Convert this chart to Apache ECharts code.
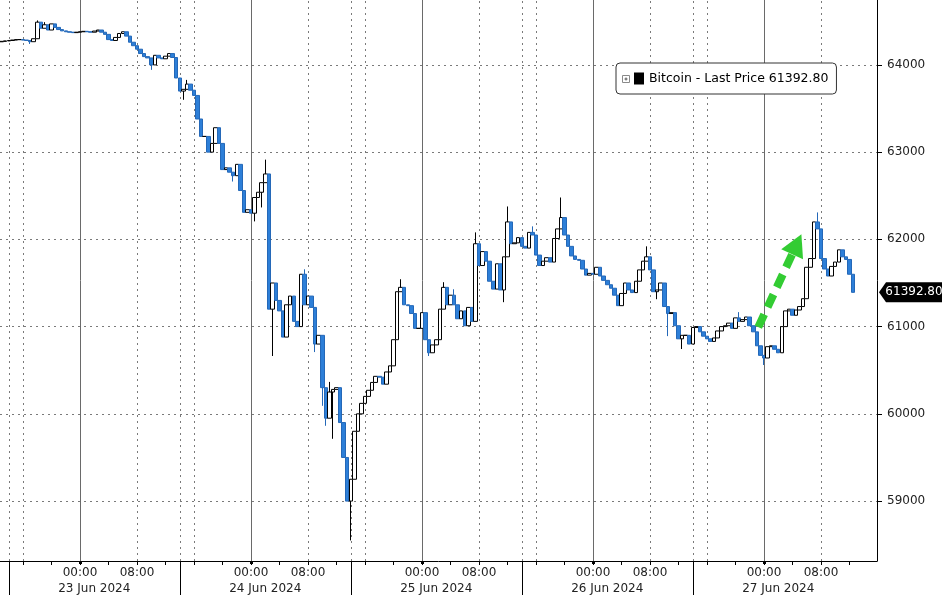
<!DOCTYPE html>
<html>
<head>
<meta charset="utf-8">
<script src="https://cdn.jsdelivr.net/npm/echarts@6/dist/echarts.min.js"></script>
<style>html,body{margin:0;padding:0;background:#fff}#c{width:942px;height:595px}</style>
</head>
<body>
<div id="c"></div>
<script>
// ---- data (hours relative to 23 Jun 2024 00:00, 30-minute candles) ----
const seriesName = 'Bitcoin';
const lastPrice = 61392.80;
const firstOpen = 64265;
const startHour = -11;
const stepHours = 0.5;
const closes = [
 64270,64275,64280,64285,64290,64290,64285,64280,64266,64300,
 64490,64420,64460,64400,64470,64430,64405,64390,64380,64375,
 64370,64375,64380,64385,64380,64375,64388,64400,64375,64350,
 64290,64280,64315,64360,64380,64330,64260,64220,64180,64130,
 64095,64080,64000,64110,64080,64070,64100,64130,64085,63850,
 63700,63720,63780,63710,63650,63380,63180,63180,63000,63100,
 63280,63100,62800,62820,62770,62730,62860,62560,62310,62340,
 62300,62480,62540,62650,62750,61200,61500,61300,61180,60880,
 61250,61350,61060,61000,61600,61250,61350,61220,60800,60900,
 60300,59950,60250,60280,60300,59900,59500,59000,59250,59800,
 60000,60120,60200,60270,60360,60430,60420,60340,60480,60550,
 60850,61400,61450,61250,61240,61150,60980,60980,61160,60850,
 60700,60790,60850,61200,61450,61250,61360,61250,61090,61180,
 61010,61220,61060,61950,61700,61860,61750,61520,61430,61720,
 61420,61800,62200,61950,61960,62020,61920,61900,62080,62050,
 61820,61700,61750,61790,61740,62010,62120,62250,62050,61920,
 61810,61770,61760,61660,61590,61610,61600,61680,61580,61530,
 61480,61440,61360,61240,61380,61500,61420,61390,61520,61650,
 61750,61800,61650,61400,61420,61500,61230,61150,61160,61010,
 60860,60900,60900,60800,60990,61000,60940,60890,60860,60830,
 60870,60950,61000,61010,61040,60980,61100,61060,61080,61110,
 61010,60940,60780,60670,60640,60770,60780,60740,60700,61000,
 61180,61200,61130,61190,61230,61320,61680,61780,62200,62120,
 61780,61660,61580,61690,61740,61880,61800,61770,61600,61392.8
];
// wick extremes: [candle index, price]
const wickHighs = [[10,64510],[12,64490],[52,63828],[62,63000],[74,62914],[85,61657],[92,60366],
  [112,61543],[124,61509],[127,61428],[133,62080],[142,62377],[149,62149],[157,62480],[181,61920],
  [207,61166],[229,62309]];
const wickLows = [[8,64240],[42,63943],[51,63600],[65,62663],[71,62206],[73,62366],[76,60663],
  [88,60708],[90,60092],[91,59863],[93,59714],[98,58549],[120,60663],[141,61280],[184,61314],
  [187,60891],[191,60743],[214,60560]];

const yTicks = [59000,60000,61000,62000,63000,64000];
const xMin = -11.23, xMax = 111.86, yMin = 58313, yMax = 64744;
const hourTicks = [-8,-4,0,4,8,12,16,20,24,28,32,36,40,44,48,52,56,60,64,68,72,76,80,84,88,92,96,100,104,108];
const timeLabelHours = [0,8,24,32,48,56,72,80,96,104];
const dayStarts = [0,24,48,72,96];
const dayLabels = ['23 Jun 2024','24 Jun 2024','25 Jun 2024','26 Jun 2024','27 Jun 2024'];
const dayLabelHours = [2,26,50,74,98];
const daySeparators = [-10,14,38,62,86];
const dottedHours = [-10,-8,8,14,16,32,38,40,56,62,64,80,86,88,104];
// annotation arrow (hour, price)
const arrowStart = [95.2, 60994];
const arrowEnd = [100.6, 61943];

// ---- build candles ----
const candleData = [];
let prev = firstOpen;
const hi = {}, lo = {};
wickHighs.forEach(([i,v]) => hi[i] = v);
wickLows.forEach(([i,v]) => lo[i] = v);
closes.forEach((c, i) => {
  const o = prev;
  let h = Math.max(o, c), l = Math.min(o, c);
  if (hi[i] != null) h = Math.max(h, hi[i]);
  if (lo[i] != null) l = Math.min(l, lo[i]);
  candleData.push([startHour + i * stepHours, o, c, l, h]);
  prev = c;
});

const FONT = 'DejaVu Sans';
const chart = echarts.init(document.getElementById('c'), null, {renderer: 'canvas'});

const gridLines = [];
yTicks.forEach(v => gridLines.push({yAxis: v, lineStyle: {type: [2, 4], color: '#7a7a7a', width: 1}}));
dottedHours.forEach(v => gridLines.push({xAxis: v, lineStyle: {type: [2, 4], color: '#7a7a7a', width: 1}}));
dayStarts.forEach(v => gridLines.push({xAxis: v, lineStyle: {type: 'solid', color: '#6a6a6a', width: 1}}));

const fmtHour = v => {
  const h = ((Math.round(v) % 24) + 24) % 24;
  return (h < 10 ? '0' : '') + h + ':00';
};

chart.setOption({
  animation: false,
  backgroundColor: '#ffffff',
  grid: {left: 0, right: 65, top: 0, bottom: 33, containLabel: false},
  legend: {
    data: [{name: seriesName, itemStyle: {color: '#000', borderWidth: 0}}],
    left: 616, top: 63, z: 4,
    icon: 'rect', itemWidth: 10, itemHeight: 12,
    padding: [9, 8, 9, 18],
    backgroundColor: '#fff', borderColor: '#333', borderWidth: 1, borderRadius: 4,
    textStyle: {fontFamily: FONT, fontSize: 12.5, color: '#000'},
    formatter: n => n + ' - Last Price ' + lastPrice.toFixed(2),
    selectedMode: false
  },
  graphic: {
    elements: [
      {type: 'rect', x: 622.5, y: 75.5, z: 100, shape: {x: 0, y: 0, width: 7, height: 7}, style: {fill: '#fff', stroke: '#8a8a8a', lineWidth: 1}},
      {type: 'line', x: 622.5, y: 75.5, z: 101, shape: {x1: 2, y1: 3.5, x2: 5, y2: 3.5}, style: {stroke: '#555', lineWidth: 1}},
      {type: 'line', x: 622.5, y: 75.5, z: 101, shape: {x1: 3.5, y1: 2, x2: 3.5, y2: 5}, style: {stroke: '#555', lineWidth: 1}}
    ]
  },
  xAxis: [{
    type: 'value', min: xMin, max: xMax, position: 'bottom',
    axisLine: {show: true, onZero: false, lineStyle: {color: '#000', width: 1}},
    axisTick: {show: true, length: 4, customValues: hourTicks, lineStyle: {color: '#000'}},
    axisLabel: {customValues: timeLabelHours, formatter: fmtHour, margin: 6,
      fontFamily: FONT, fontSize: 12, color: '#222'},
    splitLine: {show: false}
  }, {
    type: 'value', min: xMin, max: xMax, position: 'bottom',
    axisLine: {show: false, onZero: false},
    axisTick: {show: true, length: 34, customValues: daySeparators, lineStyle: {color: '#000'}},
    axisLabel: {customValues: dayLabelHours, formatter: v => dayLabels[dayLabelHours.indexOf(Math.round(v))] || '',
      margin: 22, fontFamily: FONT, fontSize: 12, color: '#222'},
    splitLine: {show: false}
  }, {
    type: 'value', min: xMin, max: xMax, position: 'bottom',
    axisLine: {show: false, onZero: false},
    axisTick: {show: true, length: 3, customValues: dayStarts, lineStyle: {color: '#000', width: 3}},
    axisLabel: {show: false},
    splitLine: {show: false}
  }],
  yAxis: {
    type: 'value', position: 'right', min: yMin, max: yMax,
    axisLine: {show: true, onZero: false, lineStyle: {color: '#000'}},
    axisTick: {show: true, length: 5, customValues: yTicks, lineStyle: {color: '#000'}},
    axisLabel: {customValues: yTicks, formatter: v => String(v), margin: 10,
      fontFamily: FONT, fontSize: 12, color: '#222'},
    splitLine: {show: false}
  },
  series: [{
    name: 'grid', type: 'line', data: [], z: 1, silent: true,
    markLine: {silent: true, symbol: 'none', z: 1, animation: false, label: {show: false}, data: gridLines}
  }, {
    name: seriesName, type: 'candlestick', z: 3,
    data: candleData,
    encode: {x: 0, y: [1, 2, 3, 4]},
    barWidth: 4,
    itemStyle: {color: '#ffffff', borderColor: '#000000', color0: '#2d7fd8', borderColor0: '#2468b8', borderWidth: 1},
    markPoint: {
      silent: true, animation: false,
      symbol: 'path://M0,10 L7,0 L64,0 L64,20 L7,20 Z',
      symbolSize: [64, 20], symbolKeepAspect: false, symbolOffset: [34, 0],
      itemStyle: {color: '#000'},
      label: {show: true, position: 'inside', offset: [3, 0], color: '#fff', fontFamily: FONT, fontSize: 12,
        formatter: () => lastPrice.toFixed(2)},
      data: [{coord: [xMax, lastPrice], value: lastPrice}]
    }
  }, {
    name: 'arrow', type: 'line', data: [], z: 10, silent: true,
    markLine: {
      silent: true, z: 10, animation: false,
      symbol: ['none', 'triangle'], symbolSize: [24, 22],
      label: {show: false},
      lineStyle: {color: '#33cc33', width: 8, type: [14, 8], cap: 'butt'},
      itemStyle: {color: '#33cc33'},
      data: [[{coord: arrowStart}, {coord: arrowEnd}]]
    }
  }]
});
</script>
</body>
</html>
